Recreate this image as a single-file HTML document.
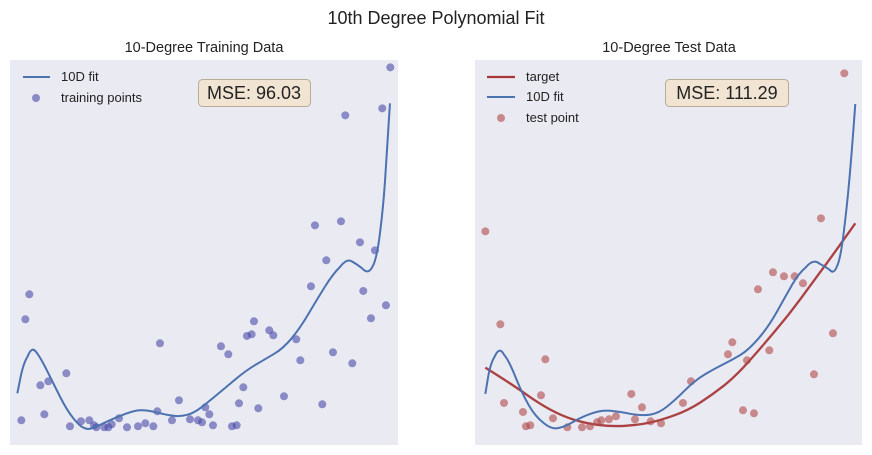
<!DOCTYPE html>
<html><head><meta charset="utf-8"><style>
body{margin:0;background:#fff;}
svg{display:block;font-family:"Liberation Sans",sans-serif;}
</style></head><body>
<svg width="872" height="455" viewBox="0 0 872 455">
<text x="436" y="24" font-size="18" text-anchor="middle" fill="#222">10th Degree Polynomial Fit</text>
<text x="204" y="52" font-size="14.5" text-anchor="middle" fill="#222">10-Degree Training Data</text>
<text x="669" y="52" font-size="14.5" text-anchor="middle" fill="#222">10-Degree Test Data</text>
<rect x="10" y="60" width="388" height="385" fill="#eaeaf2"/>
<rect x="475" y="60" width="387" height="385" fill="#eaeaf2"/>

<g transform="translate(0,40) scale(0.3333)">
<g fill="#4a4aa8" fill-opacity="0.6">
<circle cx="1171" cy="82" r="12"/><circle cx="1147" cy="205" r="12"/><circle cx="1036" cy="226" r="12"/><circle cx="945" cy="556" r="12"/><circle cx="1023" cy="544" r="12"/><circle cx="1080" cy="607" r="12"/><circle cx="1125" cy="631" r="12"/><circle cx="979" cy="661" r="12"/><circle cx="933" cy="739" r="12"/><circle cx="1090" cy="753" r="12"/><circle cx="1158" cy="796" r="12"/><circle cx="1113" cy="835" r="12"/><circle cx="88" cy="763" r="12"/><circle cx="76" cy="838" r="12"/><circle cx="762" cy="844" r="12"/><circle cx="808" cy="871" r="12"/><circle cx="820" cy="886" r="12"/><circle cx="755" cy="883" r="12"/><circle cx="741" cy="888" r="12"/><circle cx="889" cy="898" r="12"/><circle cx="480" cy="910" r="12"/><circle cx="663" cy="919" r="12"/><circle cx="685" cy="943" r="12"/><circle cx="999" cy="937" r="12"/><circle cx="901" cy="961" r="12"/><circle cx="1057" cy="970" r="12"/><circle cx="199" cy="1000" r="12"/><circle cx="145" cy="1024" r="12"/><circle cx="121" cy="1036" r="12"/><circle cx="730" cy="1042" r="12"/><circle cx="852" cy="1069" r="12"/><circle cx="537" cy="1081" r="12"/><circle cx="717" cy="1090" r="12"/><circle cx="967" cy="1093" r="12"/><circle cx="775" cy="1105" r="12"/><circle cx="616" cy="1102" r="12"/><circle cx="472" cy="1114" r="12"/><circle cx="133" cy="1123" r="12"/><circle cx="628" cy="1123" r="12"/><circle cx="64" cy="1141" r="12"/><circle cx="357" cy="1135" r="12"/><circle cx="243" cy="1144" r="12"/><circle cx="268" cy="1141" r="12"/><circle cx="516" cy="1141" r="12"/><circle cx="570" cy="1138" r="12"/><circle cx="594" cy="1141" r="12"/><circle cx="606" cy="1147" r="12"/><circle cx="335" cy="1153" r="12"/><circle cx="436" cy="1150" r="12"/><circle cx="210" cy="1159" r="12"/><circle cx="289" cy="1162" r="12"/><circle cx="313" cy="1162" r="12"/><circle cx="325" cy="1162" r="12"/><circle cx="381" cy="1162" r="12"/><circle cx="414" cy="1159" r="12"/><circle cx="460" cy="1159" r="12"/><circle cx="639" cy="1156" r="12"/><circle cx="696" cy="1159" r="12"/><circle cx="710" cy="1156" r="12"/><circle cx="282" cy="1156" r="12"/>
</g>
<path fill="none" stroke="#4c72b0" stroke-width="6" stroke-linejoin="round" d="M52,1060 L61,1015 Q70,970 82.5,950 Q95,918 107.5,935 Q120,950 140,990 Q160,1030 180,1070 Q200,1110 220,1135 Q240,1160 252.5,1164 Q265,1170 277.5,1164 Q290,1160 310,1150 Q330,1140 365,1126 Q400,1112 420,1111 Q440,1110 470,1117.5 Q500,1125 520,1127.5 Q540,1130 560,1125 Q580,1120 600,1105 Q620,1090 650,1065 Q680,1040 710,1015 Q740,990 770,972.5 Q800,955 825,940 Q850,925 875,895 Q900,865 925,822.5 Q950,780 975,740 Q1000,700 1020,681 Q1040,655 1055,664 Q1070,672 1087.5,686 Q1105,705 1117.5,680 Q1130,660 1140,580 Q1150,500 1155,425 Q1160,350 1170,190"/>
</g>

<g transform="translate(462,40) scale(0.3333)">
<path fill="none" stroke="#a83838" stroke-opacity="0.95" stroke-width="7" d="M70,983 L115,1011.5 Q160,1040 195,1065 Q230,1090 265,1109 Q300,1128 335,1139 Q370,1150 410,1155 Q450,1160 490,1157.5 Q530,1155 565,1147.5 Q600,1140 640,1125 Q680,1110 715,1087.5 Q750,1065 785,1037.5 Q820,1010 860,965 Q900,920 940,872.5 Q980,825 1015,777.5 Q1050,730 1085,682.5 Q1120,635 1180,550"/>
<g fill="#b04848" fill-opacity="0.6">
<circle cx="70" cy="574" r="12"/><circle cx="1147" cy="100" r="12"/><circle cx="1077" cy="535" r="12"/><circle cx="115" cy="853" r="12"/><circle cx="933" cy="697" r="12"/><circle cx="966" cy="709" r="12"/><circle cx="998" cy="709" r="12"/><circle cx="1023" cy="730" r="12"/><circle cx="888" cy="748" r="12"/><circle cx="1113" cy="880" r="12"/><circle cx="811" cy="907" r="12"/><circle cx="922" cy="931" r="12"/><circle cx="798" cy="943" r="12"/><circle cx="250" cy="958" r="12"/><circle cx="855" cy="961" r="12"/><circle cx="1056" cy="1003" r="12"/><circle cx="687" cy="1024" r="12"/><circle cx="237" cy="1066" r="12"/><circle cx="508" cy="1062" r="12"/><circle cx="126" cy="1089" r="12"/><circle cx="663" cy="1089" r="12"/><circle cx="540" cy="1102" r="12"/><circle cx="183" cy="1116" r="12"/><circle cx="843" cy="1111" r="12"/><circle cx="876" cy="1120" r="12"/><circle cx="273" cy="1135" r="12"/><circle cx="462" cy="1129" r="12"/><circle cx="441" cy="1138" r="12"/><circle cx="418" cy="1141" r="12"/><circle cx="405" cy="1147" r="12"/><circle cx="519" cy="1138" r="12"/><circle cx="566" cy="1144" r="12"/><circle cx="597" cy="1150" r="12"/><circle cx="192" cy="1159" r="12"/><circle cx="205" cy="1156" r="12"/><circle cx="316" cy="1162" r="12"/><circle cx="360" cy="1162" r="12"/><circle cx="384" cy="1159" r="12"/>
</g>
<path fill="none" stroke="#4c72b0" stroke-width="6" stroke-linejoin="round" d="M70,1062 L77.5,1016 Q85,970 98.5,949 Q112,918 126,944 Q140,960 160,1010 Q180,1060 200,1095 Q220,1130 245,1149 Q270,1170 290,1164 Q310,1160 335,1145 Q360,1130 390,1120 Q420,1110 445,1112.5 Q470,1115 505,1121.5 Q540,1128 565,1124 Q590,1120 615,1100 Q640,1080 670,1050 Q700,1020 730,1002.5 Q760,985 785,972.5 Q810,960 835,945 Q860,930 890,895 Q920,860 945,815 Q970,770 990,735 Q1010,700 1032.5,681 Q1055,655 1072.5,671 Q1090,680 1102.5,689 Q1115,705 1125,679 Q1135,660 1145,580 Q1155,500 1162.5,415 Q1170,330 1180,192"/>
</g>

<!-- left legend -->
<line x1="23" y1="77" x2="50" y2="77" stroke="#4c72b0" stroke-width="2"/>
<text x="61" y="81" font-size="13" fill="#222">10D fit</text>
<circle cx="36" cy="98" r="4" fill="#4a4aa8" fill-opacity="0.6"/>
<text x="61" y="102" font-size="13" fill="#222">training points</text>
<rect x="198.5" y="79.5" width="112" height="27" rx="4" fill="#f1e4d2" stroke="#b8ab98"/>
<text x="254" y="99" font-size="18" text-anchor="middle" fill="#222">MSE: 96.03</text>

<!-- right legend -->
<line x1="487" y1="77" x2="515" y2="77" stroke="#a83838" stroke-width="2.3"/>
<text x="526" y="81" font-size="13" fill="#222">target</text>
<line x1="487" y1="97" x2="515" y2="97" stroke="#4c72b0" stroke-width="2"/>
<text x="526" y="101" font-size="13" fill="#222">10D fit</text>
<circle cx="501" cy="118" r="4" fill="#b04848" fill-opacity="0.6"/>
<text x="526" y="122" font-size="13" fill="#222">test point</text>
<rect x="665.5" y="79.5" width="123" height="27" rx="4" fill="#f1e4d2" stroke="#b8ab98"/>
<text x="727" y="99" font-size="18" text-anchor="middle" fill="#222">MSE: 111.29</text>
</svg>
</body></html>
